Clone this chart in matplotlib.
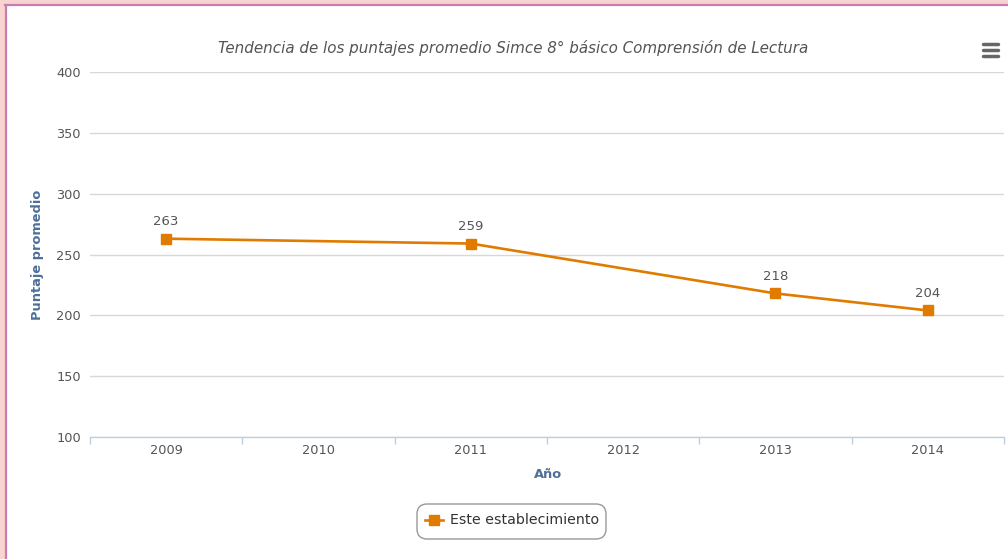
import matplotlib
matplotlib.use("Agg")
import matplotlib.pyplot as plt
from matplotlib.patches import Rectangle, FancyBboxPatch
from matplotlib.lines import Line2D

# data
years = ['2009', '2010', '2011', '2012', '2013', '2014']
point_years = ['2009', '2011', '2013', '2014']
scores = [263, 259, 218, 204]
yticks = [100, 150, 200, 250, 300, 350, 400]

orange = '#E07B00'
label_blue = '#4D6F99'
text_grey = '#555555'

W, H = 1008, 559
fig = plt.figure(figsize=(W / 100, H / 100), dpi=100, facecolor='#F9D3CD')

# white card with magenta edge on left/top (right/bottom cut off)
fig.patches.append(Rectangle((6 / W, 0), 1, 1 - 6 / H, transform=fig.transFigure,
                             facecolor='white', edgecolor='none', zorder=-5))
fig.lines.append(Line2D([5.5 / W, 5.5 / W], [0, 1 - 4.5 / H], transform=fig.transFigure,
                        color='#C77DB4', lw=1.6, zorder=-4))
fig.lines.append(Line2D([5 / W, 1], [1 - 4.5 / H, 1 - 4.5 / H], transform=fig.transFigure,
                        color='#C77DB4', lw=1.6, zorder=-4))

ax = fig.add_axes([90 / W, 1 - 437 / H, (1004 - 90) / W, (437 - 72) / H])
ax.set_facecolor('none')

xs = [years.index(y) for y in point_years]
line, = ax.plot(xs, scores, color=orange, lw=1.9, marker='s', markersize=7,
                markerfacecolor=orange, markeredgecolor=orange, zorder=3,
                label='Este establecimiento')
for x, v in zip(xs, scores):
    ax.annotate(str(v), (x, v), xytext=(0, 7.5), textcoords='offset points',
                ha='center', va='bottom', fontsize=9.5, color=text_grey)

ax.set_xlim(-0.5, len(years) - 0.5)
ax.set_ylim(100, 400)
ax.set_yticks(yticks)
ax.set_yticklabels([str(t) for t in yticks])
ax.grid(axis='y', color='#D8D8D8', lw=1)
ax.set_axisbelow(True)

ax.set_xticks(range(len(years)))
ax.set_xticklabels(years)
ax.set_xticks([i - 0.5 for i in range(len(years) + 1)], minor=True)
ax.tick_params(axis='x', which='major', length=0, pad=5, labelsize=9.3, labelcolor=text_grey)
ax.tick_params(axis='x', which='minor', length=5, color='#C0D0E0', width=1)
ax.tick_params(axis='y', length=0, pad=6.5, labelsize=9.3, labelcolor=text_grey)

for s in ['top', 'right', 'left']:
    ax.spines[s].set_visible(False)
ax.spines['bottom'].set_color('#C0D0E0')
ax.spines['bottom'].set_linewidth(1)

fig.text(38 / W, 1 - 255 / H, 'Puntaje promedio', rotation=90, ha='center', va='center',
         fontsize=9.4, fontweight='bold', color=label_blue)
fig.text(548 / W, 1 - 475 / H, 'Año', ha='center', va='center',
         fontsize=9.4, fontweight='bold', color=label_blue)
fig.text(513 / W, 1 - 48 / H,
         'Tendencia de los puntajes promedio Simce 8° básico Comprensión de Lectura',
         ha='center', va='center', fontsize=10.9, style='italic', color=text_grey)

# legend box
fig.patches.append(FancyBboxPatch((417 / W, 1 - 539 / H), 189 / W, 35 / H,
                                  boxstyle='round,pad=0,rounding_size=0.01',
                                  transform=fig.transFigure, facecolor='white',
                                  edgecolor='#999999', lw=1, mutation_aspect=W / H))
fig.lines.append(Line2D([425 / W, 434 / W, 443 / W], [1 - 520 / H] * 3,
                        transform=fig.transFigure, color=orange, lw=1.9, marker='s',
                        markersize=7, markevery=[1], markeredgecolor=orange))
fig.text(450 / W, 1 - 520 / H, 'Este establecimiento', ha='left', va='center',
         fontsize=10.2, color='#333333')

# menu icon
for yy in [44, 50, 56]:
    fig.lines.append(Line2D([983 / W, 998 / W], [1 - yy / H] * 2, transform=fig.transFigure,
                            color='#666666', lw=2.5, solid_capstyle='round'))

fig.savefig('out.png', dpi=100, facecolor=fig.get_facecolor())
